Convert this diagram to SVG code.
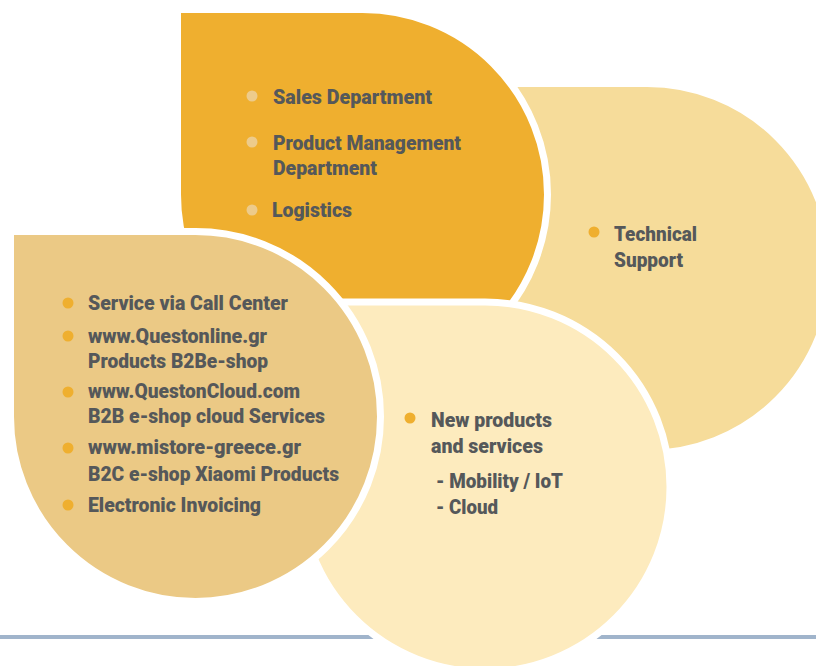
<svg xmlns="http://www.w3.org/2000/svg" width="816" height="666" viewBox="0 0 816 666">
<style>
.leaf{stroke:#FFFFFF;stroke-width:7;stroke-linejoin:round}
.t{font-family:Roboto,"Liberation Sans",sans-serif;font-weight:900;font-size:20.5px;fill:#55585A}
.bo{fill:#EFAF2F}
.bp{fill:#EDCB8B}
</style>
<rect x="0" y="0" width="816" height="666" fill="#FFFFFF"/>
<rect id="baseline" x="0" y="635" width="816" height="4" fill="#A0B4CB"/>
<g id="node-technical">
<path class="leaf" fill="#F6DC9A" d="M462 83.5 H647 A185 185 0 0 1 832 268.5 A185 185 0 0 1 647 453.5 A185 185 0 0 1 462 268.5 Z"/>
<circle class="bo" cx="594" cy="232" r="5.5"/>
<text class="t" x="614" y="241" textLength="83" lengthAdjust="spacingAndGlyphs">Technical</text>
<text class="t" x="614" y="267" textLength="69" lengthAdjust="spacingAndGlyphs">Support</text>
</g>
<g id="node-sales">
<path class="leaf" fill="#EFAF2F" d="M177.5 9.5 H362.5 A185 185 0 0 1 547.5 194.5 A185 185 0 0 1 362.5 379.5 A185 185 0 0 1 177.5 194.5 Z"/>
<circle class="bp" cx="252" cy="96" r="5.5"/>
<text class="t" x="273" y="104" textLength="159" lengthAdjust="spacingAndGlyphs">Sales Department</text>
<circle class="bp" cx="252" cy="142" r="5.5"/>
<text class="t" x="273" y="150" textLength="188" lengthAdjust="spacingAndGlyphs">Product Management</text>
<text class="t" x="273" y="175" textLength="104" lengthAdjust="spacingAndGlyphs">Department</text>
<circle class="bp" cx="252" cy="210" r="5.5"/>
<text class="t" x="272" y="217" textLength="80" lengthAdjust="spacingAndGlyphs">Logistics</text>
</g>
<g id="node-new">
<path class="leaf" fill="#FDEBBE" d="M300 302 H485 A185 185 0 0 1 670 487 A185 185 0 0 1 485 672 A185 185 0 0 1 300 487 Z"/>
<circle class="bo" cx="410" cy="418" r="5.5"/>
<text class="t" x="431" y="427" textLength="121" lengthAdjust="spacingAndGlyphs">New products</text>
<text class="t" x="431" y="453" textLength="112" lengthAdjust="spacingAndGlyphs">and services</text>
<text class="t" x="436" y="488" textLength="127" lengthAdjust="spacingAndGlyphs">- Mobility / IoT</text>
<text class="t" x="436" y="514" textLength="62" lengthAdjust="spacingAndGlyphs">- Cloud</text>
</g>
<g id="node-services">
<path class="leaf" fill="#EBC985" d="M10.5 231.5 H195.5 A185 185 0 0 1 380.5 416.5 A185 185 0 0 1 195.5 601.5 A185 185 0 0 1 10.5 416.5 Z"/>
<circle class="bo" cx="68" cy="303" r="5.5"/>
<text class="t" x="88" y="310" textLength="200" lengthAdjust="spacingAndGlyphs">Service via Call Center</text>
<circle class="bo" cx="68" cy="336" r="5.5"/>
<text class="t" x="88" y="343" textLength="179" lengthAdjust="spacingAndGlyphs">www.Questonline.gr</text>
<text class="t" x="88" y="368" textLength="180" lengthAdjust="spacingAndGlyphs">Products B2Be-shop</text>
<circle class="bo" cx="68" cy="392" r="5.5"/>
<text class="t" x="88" y="398" textLength="212" lengthAdjust="spacingAndGlyphs">www.QuestonCloud.com</text>
<text class="t" x="88" y="423" textLength="237" lengthAdjust="spacingAndGlyphs">B2B e-shop cloud Services</text>
<circle class="bo" cx="68" cy="448" r="5.5"/>
<text class="t" x="88" y="454" textLength="213" lengthAdjust="spacingAndGlyphs">www.mistore-greece.gr</text>
<text class="t" x="88" y="481" textLength="251" lengthAdjust="spacingAndGlyphs">B2C e-shop Xiaomi Products</text>
<circle class="bo" cx="68" cy="505" r="5.5"/>
<text class="t" x="88" y="512" textLength="173" lengthAdjust="spacingAndGlyphs">Electronic Invoicing</text>
</g>
<g id="connectors"></g>
</svg>
